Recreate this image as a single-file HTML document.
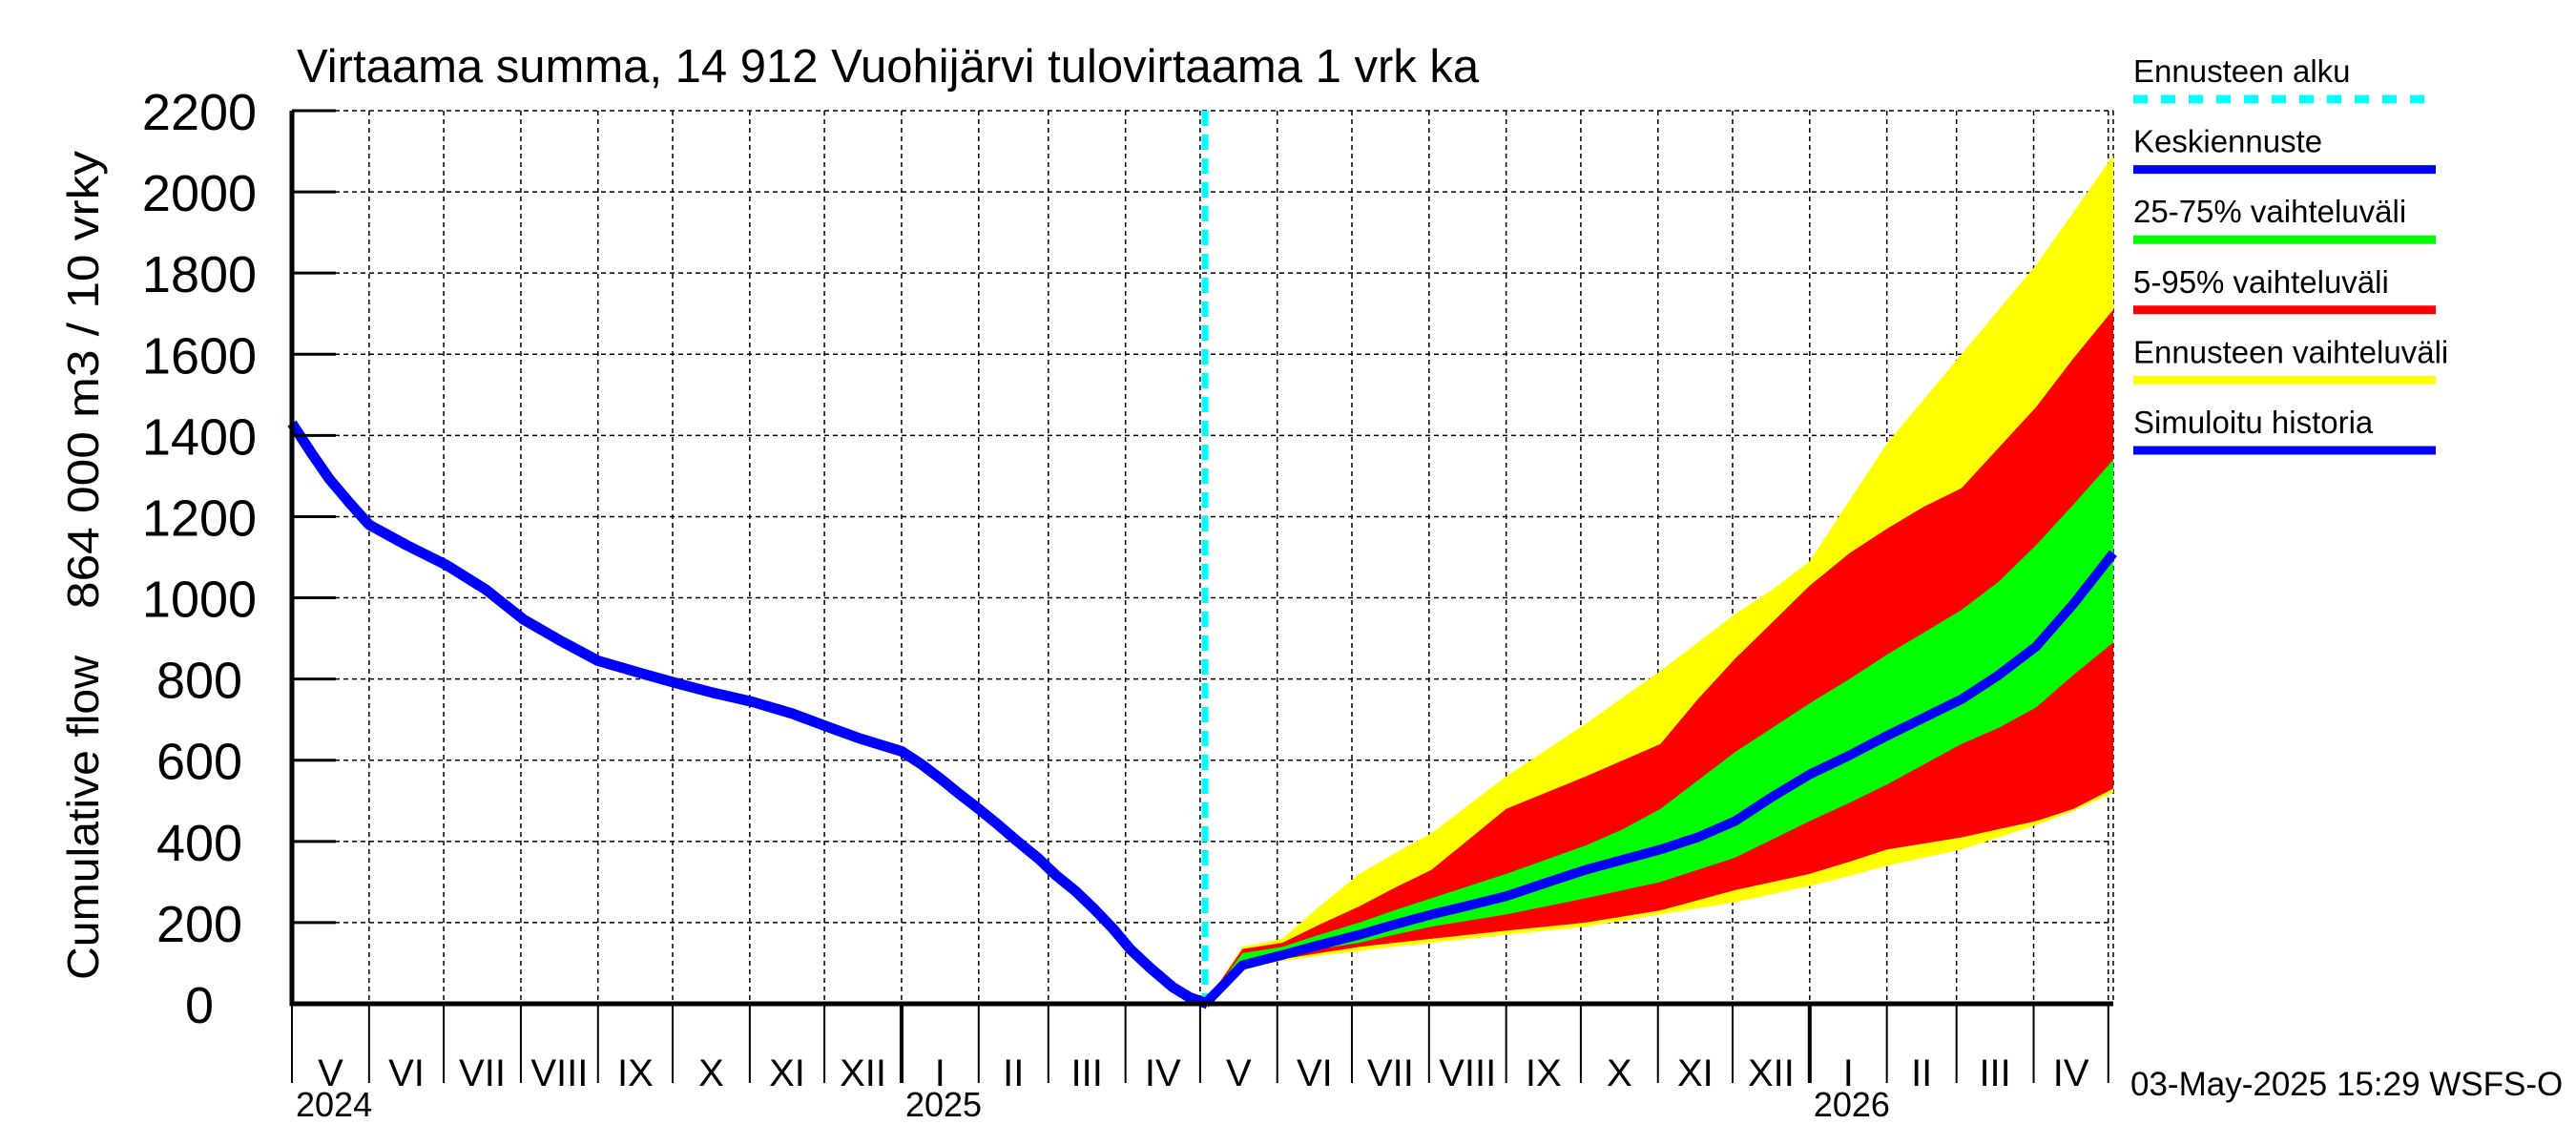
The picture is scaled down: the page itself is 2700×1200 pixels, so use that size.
<!DOCTYPE html>
<html><head><meta charset="utf-8">
<style>
html,body{margin:0;padding:0;background:#fff;}
svg{display:block;font-family:"Liberation Sans",sans-serif;}
</style></head>
<body>
<svg id="chart" width="2700" height="1200" viewBox="0 0 2700 1200" xmlns="http://www.w3.org/2000/svg">
<rect width="2700" height="1200" fill="#fff"/>
<g id="grid"></g>
<g id="bands"></g>
<g id="lines"></g>
<g id="axes"></g>
<text x="311" y="86" font-size="49">Virtaama summa, 14 912 Vuohijärvi tulovirtaama 1 vrk ka</text>
<text transform="translate(103,857) rotate(-90)" text-anchor="middle" font-size="46" textLength="340" lengthAdjust="spacingAndGlyphs">Cumulative flow</text>
<text transform="translate(103,398) rotate(-90)" text-anchor="middle" font-size="46" textLength="480" lengthAdjust="spacingAndGlyphs">864 000 m3 / 10 vrky</text>
<g id="legend"></g>
<text x="2233" y="1148" font-size="35">03-May-2025 15:29 WSFS-O</text>
</svg>
<script>
// ---- data ----
const histDays = [0,8,15,23,31,46,62,78,93,108,123,141,155,170,185,201,215,228,245,253,261,268,276,284,292,300,307,315,322,330,337,345,354,361,368];
const histVals = [1430,1355,1293,1235,1180,1130,1081,1020,947,894,845,813,789,765,744,715,683,654,622,590,553,518,480,440,398,358,317,277,236,185,134,88,41,15,0];
const fcDays = [367,382,398,413,429,443,458,473,488,504,520,535,550,565,580,595,610,626,641,656,671,686,701,716,732];
const fcMedian = [0,95,120,145,170,195,220,242,265,298,330,355,380,410,450,510,565,612,660,705,750,810,880,985,1110];
const fcP75 = [0,125,140,170,200,230,260,290,320,355,390,430,480,550,620,680,740,800,860,915,970,1040,1130,1230,1340];
const fcP25 = [0,105,115,135,150,170,190,205,220,240,260,280,300,330,360,405,450,495,540,590,640,680,730,810,890];
const fcP95 = [0,135,150,195,240,285,330,405,480,520,560,600,640,750,850,940,1030,1110,1170,1225,1270,1370,1470,1590,1710];
const fcP05 = [0,100,110,125,140,150,160,170,180,190,200,215,230,255,280,300,320,350,380,395,410,430,450,480,530];
const fcMax = [0,140,160,240,320,370,420,490,560,625,690,755,820,890,960,1020,1090,1240,1380,1490,1600,1710,1820,1950,2090];
const fcMin = [0,95,105,118,130,140,150,160,170,180,190,205,220,235,250,270,290,315,340,360,380,410,440,475,520];
const yTicks = [0,200,400,600,800,1000,1200,1400,1600,1800,2000,2200];
const monthLabels = ["V","VI","VII","VIII","IX","X","XI","XII","I","II","III","IV","V","VI","VII","VIII","IX","X","XI","XII","I","II","III","IV"];
const yearLabels = ["2024","2025","2026"];
const forecastStartDay = 367;

// ---- axes ----
const X0=306, X1=2215, Y0=1052, Y1=116, DMAX=732, VMAX=2200;
const xs = d => X0 + d*(X1-X0)/DMAX;
const ys = v => Y0 - v*(Y0-Y1)/VMAX;
const NS="http://www.w3.org/2000/svg";
function mk(tag, attrs, parent){const e=document.createElementNS(NS,tag);for(const k in attrs)e.setAttribute(k,attrs[k]);parent.appendChild(e);return e;}
const grid=document.getElementById('grid'), axes=document.getElementById('axes'), bands=document.getElementById('bands'), lines=document.getElementById('lines'), legend=document.getElementById('legend');

const mlen=[31,30,31,31,30,31,30,31,31,28,31,30,31,30,31,31,30,31,30,31,31,28,31,30];
let bounds=[0];for(const m of mlen)bounds.push(bounds[bounds.length-1]+m);

yTicks.forEach(v=>{
  const y=ys(v);
  if(v>0){
    const g=mk('line',{x1:X0,x2:X1,y1:y,y2:y,stroke:'#000','stroke-width':1.5,'stroke-dasharray':'5,4'},grid);
    
    
    const t=mk('line',{x1:X0,x2:X0+46,y1:y,y2:y,stroke:'#000','stroke-width':3},axes);
    
    
  }
  const lb=mk('text',{x:209,y:y+20,'font-size':54,'text-anchor':'middle'},axes);
  lb.textContent=v;
  
  
});

bounds.forEach((d,i)=>{
  const x=xs(d);
  if(i>0){
    const g=mk('line',{x1:x,x2:x,y1:Y1,y2:Y0,stroke:'#000','stroke-width':1.5,'stroke-dasharray':'5,4'},grid);
    
    
  }
  const yb=(i===8||i===20);
  const s=mk('line',{x1:x,x2:x,y1:Y0,y2:1135,stroke:'#000','stroke-width':yb?4:2},axes);
  
  
  if(i<monthLabels.length){
    const cx=(xs(d)+xs(bounds[i+1]))/2;
    const t=mk('text',{x:cx,y:1138,'font-size':40,'text-anchor':'middle'},axes);
    t.textContent=monthLabels[i];
    
    
  }
});
const rg=mk('line',{x1:X1,x2:X1,y1:Y1,y2:Y0,stroke:'#000','stroke-width':1.5,'stroke-dasharray':'5,4'},grid);


[0,8,20].forEach((bi,k)=>{
  const t=mk('text',{x:xs(bounds[bi])+4,y:1170,'font-size':36},axes);
  t.textContent=yearLabels[k];
  
  
});
const ax=mk('path',{d:`M${X0},${Y1} V${Y0} H${X1}`,fill:'none',stroke:'#000','stroke-width':5},axes);



function band(up,lo,color,name){
  let d='M'+fcDays.map((dd,i)=>xs(dd)+','+ys(up[i])).join(' L');
  d+=' L'+fcDays.map((dd,i)=>xs(dd)+','+ys(lo[i])).reverse().join(' L')+' Z';
  const p=mk('path',{d:d,fill:color,stroke:'none'},bands);
  
  
}
band(fcMax,fcMin,'#ffff00','band-forecast-range');
band(fcP95,fcP05,'#ff0000','band-5-95');
band(fcP75,fcP25,'#00ff00','band-25-75');

const fs=mk('line',{x1:xs(forecastStartDay),x2:xs(forecastStartDay),y1:Y1,y2:Y0,stroke:'#00ffff','stroke-width':7,'stroke-dasharray':'16,9'},lines);



const hl=mk('polyline',{points:histDays.map((d,i)=>xs(d)+','+ys(histVals[i])).join(' '),fill:'none',stroke:'#0000ff','stroke-width':11,'stroke-linejoin':'round'},lines);


const ml=mk('polyline',{points:fcDays.map((d,i)=>xs(d)+','+ys(fcMedian[i])).join(' '),fill:'none',stroke:'#0000ff','stroke-width':10,'stroke-linejoin':'round'},lines);



const legItems=[["Ennusteen alku","#00ffff",true],["Keskiennuste","#0000ff",false],["25-75% vaihteluväli","#00ff00",false],["5-95% vaihteluväli","#ff0000",false],["Ennusteen vaihteluväli","#ffff00",false],["Simuloitu historia","#0000ff",false]];
legItems.forEach((it,i)=>{
  const by=86+i*73.6;
  const t=mk('text',{x:2236,y:by,'font-size':33},legend);
  t.textContent=it[0];
  
  
  const l=mk('line',{x1:2236,x2:2553,y1:by+18,y2:by+18,stroke:it[1],'stroke-width':9},legend);
  if(it[2])l.setAttribute('stroke-dasharray','15,14');
  
  
});
</script>
</body></html>
